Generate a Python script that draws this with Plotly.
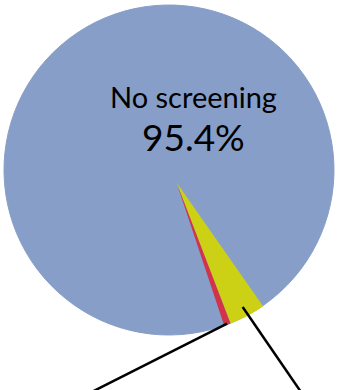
import math
import plotly.graph_objects as go

# ---- data ----
labels = ["Category 3", "Category 2", "No screening"]   # clockwise order from the start angle
values = [3.9, 0.7, 95.4]
colors = ["#CDD116", "#D3334A", "#879FC8"]
main_label = "No screening"
main_value = 95.4

W, H = 337, 390

# geometry (pixels)
big_cx, big_cy, big_r = 169.0, 170.0, 165.0
sm_cx, sm_cy, sm_r = 176.5, 182.5, 151.0
start_angle = 145.0  # degrees clockwise from 12 o'clock

def dom(cx, cy, r):
    return dict(x=[(cx - r) / W, (cx + r) / W],
                y=[1 - (cy + r) / H, 1 - (cy - r) / H])

fig = go.Figure()
# full blue disc
fig.add_trace(go.Pie(
    labels=labels, values=values, sort=False, direction="clockwise",
    rotation=start_angle, domain=dom(big_cx, big_cy, big_r),
    marker=dict(colors=[colors[2]] * 3, line=dict(width=1, color=colors[2])),
    textinfo="none", hoverinfo="label+percent", showlegend=False,
))
# small wedges on top
fig.add_trace(go.Pie(
    labels=labels, values=values, sort=False, direction="clockwise",
    rotation=start_angle, domain=dom(sm_cx, sm_cy, sm_r),
    marker=dict(colors=[colors[0], colors[1], "rgba(0,0,0,0)"], line=dict(width=0)),
    textinfo="none", hoverinfo="label+percent", showlegend=False,
))

# leader lines derived from slice mid-angles
total = sum(values)
shapes = []
acc = start_angle
mids = []
for v in values:
    span = v / total * 360
    mids.append(acc + span / 2)
    acc += span

def pt(angle, rr):
    a = math.radians(angle)
    return sm_cx + rr * math.sin(a), sm_cy - rr * math.cos(a)

# red slice leader -> down-left; yellow slice leader -> down-right
leaders = [(mids[1], 150.0, 91.7, 392.0), (mids[0], 141.0, 301.0, 392.0)]
for ang, rr, ex, ey in leaders:
    sx, sy = pt(ang, rr)
    shapes.append(dict(type="line", xref="paper", yref="paper",
                       x0=sx / W, y0=1 - sy / H, x1=ex / W, y1=1 - ey / H,
                       line=dict(color="black", width=2.5)))

fig.update_layout(
    width=W, height=H, margin=dict(l=0, r=0, t=0, b=0),
    paper_bgcolor="white", plot_bgcolor="white",
    shapes=shapes,
    annotations=[
        dict(text=main_label, x=193 / W, y=1 - 96 / H, xref="paper", yref="paper",
             showarrow=False, xanchor="center", yanchor="middle",
             font=dict(family="Lato", size=29, color="black")),
        dict(text=f"{main_value}%", x=193.5 / W, y=1 - 136 / H, xref="paper", yref="paper",
             showarrow=False, xanchor="center", yanchor="middle",
             font=dict(family="Lato", size=37, color="black")),
    ],
)
fig.write_html("out.html")
